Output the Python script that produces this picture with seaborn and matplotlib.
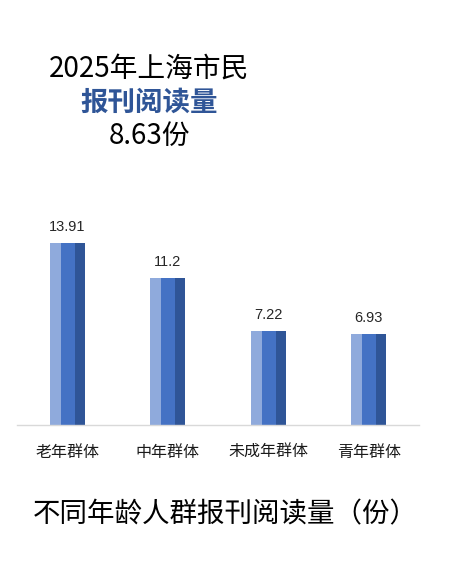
import numpy as np
import pandas as pd
import matplotlib
matplotlib.use("Agg")
import matplotlib.pyplot as plt
import seaborn as sns

# 数据
groups = ["老年群体", "中年群体", "未成年群体", "青年群体"]
values = [13.91, 11.2, 7.22, 6.93]
value_labels = ["13.91", "11.2", "7.22", "6.93"]
title_lines = ["2025年上海市民", "报刊阅读量", "8.63份"]
footer = "不同年龄人群报刊阅读量（份）"

light = "#8FAADC"
medium = "#4472C4"
dark = "#2F5597"

df = pd.DataFrame({"group": groups, "value": values})

sns.set_theme(style="white")
plt.rcParams["font.family"] = ["Noto Sans CJK SC", "DejaVu Sans"]

fig = plt.figure(figsize=(4.74, 5.76), dpi=100)
ax = fig.add_axes([17 / 474, 1 - 425 / 576, 402 / 474, 209.4 / 576])

# 深色整条，再叠加中间色和浅色
sns.barplot(data=df, x="group", y="value", color=dark, width=0.35,
            saturation=1, linewidth=0, edgecolor="none", ax=ax)
pos = np.arange(len(groups))
ax.bar(pos - 0.175, df["value"], width=0.25, align="edge", color=medium,
       linewidth=0)
ax.bar(pos - 0.175, df["value"], width=0.11, align="edge", color=light,
       linewidth=0)

for x, v, lab in zip(pos, values, value_labels):
    ax.annotate(lab, (x, v), xytext=(0, 8.6), textcoords="offset points",
                ha="center", va="baseline", fontsize=10.5, color="#262626",
                family=["Liberation Sans", "DejaVu Sans"])

ax.set_xlim(-0.5, len(groups) - 0.5)
ax.set_ylim(0, 16)
ax.set_xlabel("")
ax.set_ylabel("")
ax.set_yticks([])
ax.tick_params(axis="x", length=0, pad=13.5, labelsize=11.5, labelcolor="#1a1a1a")
for s in ["top", "left", "right"]:
    ax.spines[s].set_visible(False)
ax.spines["bottom"].set_color("#D9D9D9")
ax.spines["bottom"].set_linewidth(1)

# 标题
fig.text(149 / 474, 1 - 69 / 576, title_lines[0], ha="center", va="center",
         fontsize=20, color="black")
fig.text(149 / 474, 1 - 103 / 576, title_lines[1], ha="center", va="center",
         fontsize=19.8, color=dark, fontweight="bold")
fig.text(149 / 474, 1 - 136 / 576, title_lines[2], ha="center", va="center",
         fontsize=20, color="black")
fig.text(225 / 474, 1 - 515 / 576, footer, ha="center", va="center",
         fontsize=19.8, color="black")

fig.savefig("out.png", dpi=100, facecolor="white")
